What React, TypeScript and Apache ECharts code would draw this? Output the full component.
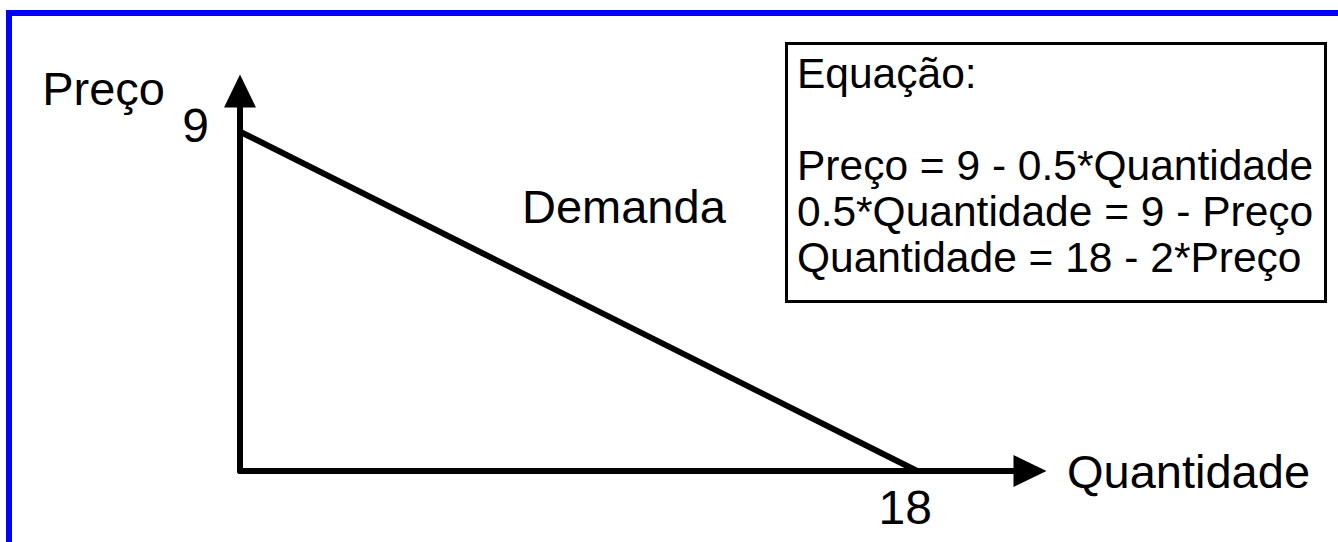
import React, { useEffect, useRef } from "react";
import * as echarts from "echarts";

// Demand curve: Preço = 9 - 0.5*Quantidade
const quantidade = [0, 18];
const preco = [9, 0];
const xTickLabels = [18];
const yTickLabels = [9];
const xAxisName = "Quantidade";
const yAxisName = "Preço";
const seriesName = "Demanda";
const equationLines = [
  "Equação:",
  "",
  "Preço = 9 - 0.5*Quantidade",
  "0.5*Quantidade = 9 - Preço",
  "Quantidade = 18 - 2*Preço",
];

const FONT = '"Liberation Sans", Arial, Helvetica, sans-serif';

export default function App() {
  const ref = useRef<HTMLDivElement>(null);

  useEffect(() => {
    if (!ref.current) return;
    const chart = echarts.init(ref.current, undefined, { renderer: "svg" });
    const data = quantidade.map((q, i) => [q, preco[i]]);
    chart.setOption({
      animation: false,
      backgroundColor: "#ffffff",
      textStyle: { fontFamily: FONT },
      grid: {
        left: 240,
        top: 94,
        width: 790,
        height: 377,
        containLabel: false,
        outerBoundsMode: "none",
      },
      xAxis: {
        type: "value",
        min: 0,
        max: 21,
        name: xAxisName,
        nameLocation: "end",
        nameGap: 37,
        nameTextStyle: {
          color: "#000",
          fontSize: 47,
          fontFamily: FONT,
          padding: [0, 0, 12, 0],
        },
        axisLine: {
          show: true,
          onZero: true,
          symbol: ["none", "triangle"],
          symbolSize: [32, 33],
          lineStyle: { color: "#000", width: 6 },
        },
        axisTick: { show: false },
        splitLine: { show: false },
        axisLabel: {
          customValues: xTickLabels,
          color: "#000",
          fontSize: 48,
          fontFamily: FONT,
          margin: 12,
          padding: [0, 24, 0, 0],
        },
      },
      yAxis: {
        type: "value",
        min: 0,
        max: 10,
        name: yAxisName,
        nameLocation: "end",
        nameGap: -18,
        nameTextStyle: {
          color: "#000",
          fontSize: 47,
          fontFamily: FONT,
          align: "right",
          verticalAlign: "bottom",
          padding: [0, 75, 0, 0],
        },
        axisLine: {
          show: true,
          onZero: true,
          symbol: ["none", "triangle"],
          symbolSize: [32, 33],
          symbolOffset: [0, 3],
          lineStyle: { color: "#000", width: 6 },
        },
        axisTick: { show: false },
        splitLine: { show: false },
        axisLabel: {
          customValues: yTickLabels,
          color: "#000",
          fontSize: 48,
          fontFamily: FONT,
          margin: 31,
          verticalAlign: "bottom",
          lineHeight: 12,
        },
      },
      series: [
        {
          name: seriesName,
          type: "line",
          data,
          showSymbol: false,
          symbol: "none",
          lineStyle: { color: "#000", width: 6 },
          z: 3,
        },
      ],
      graphic: [
        {
          type: "rect",
          shape: { x: 9, y: 13, width: 1400, height: 600 },
          style: { fill: "none", stroke: "#0000ff", lineWidth: 6 },
          silent: true,
        },
        {
          type: "rect",
          shape: { x: 786.5, y: 43.5, width: 539, height: 258 },
          style: { fill: "#fff", stroke: "#000", lineWidth: 3 },
          silent: true,
        },
        {
          type: "text",
          x: 797,
          y: 50,
          style: {
            text: equationLines.join("\n"),
            fill: "#000",
            fontSize: 42.5,
            fontFamily: FONT,
            lineHeight: 46,
            verticalAlign: "top",
            align: "left",
          },
          silent: true,
        },
        {
          type: "text",
          x: 522,
          y: 183,
          style: {
            text: seriesName,
            fill: "#000",
            fontSize: 47,
            fontFamily: FONT,
            lineHeight: 47,
            verticalAlign: "top",
            align: "left",
          },
          silent: true,
        },
      ],
    });
    return () => chart.dispose();
  }, []);

  return (
    <div
      ref={ref}
      style={{
        position: "fixed",
        left: 0,
        top: 0,
        width: 1338,
        height: 542,
        background: "#fff",
      }}
    />
  );
}
